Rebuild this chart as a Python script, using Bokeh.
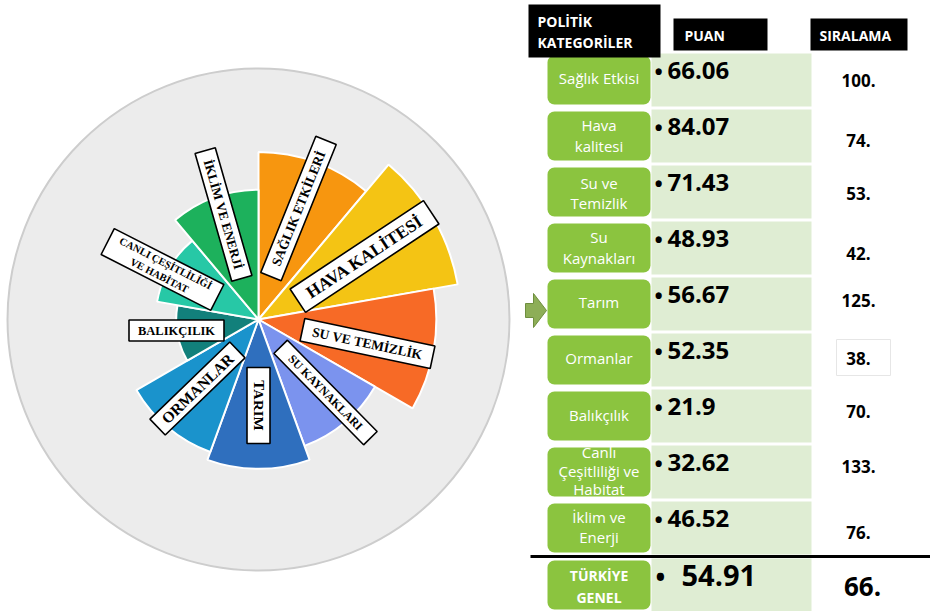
import math
from bokeh.plotting import figure
from bokeh.models import Range1d, ColumnDataSource
from bokeh.core.properties import value
from bokeh.embed import file_html
from bokeh.resources import INLINE

# ---------------- data ----------------
chart_labels = ["SAĞLIK ETKİLERİ", "HAVA KALİTESİ", "SU VE TEMİZLİK", "SU KAYNAKLARI",
                "TARIM", "ORMANLAR", "BALIKÇILIK", "CANLI ÇEŞİTLİLİĞİ\nVE HABİTAT",
                "İKLİM VE ENERJİ"]
table_labels = ["Sağlık Etkisi", "Hava\nkalitesi", "Su ve\nTemizlik", "Su\nKaynakları",
                "Tarım", "Ormanlar", "Balıkçılık", "Canlı\nÇeşitliliği ve\nHabitat",
                "İklim ve\nEnerji"]
scores = [66.06, 84.07, 71.43, 48.93, 56.67, 52.35, 21.9, 32.62, 46.52]
ranks = [100, 74, 53, 42, 125, 38, 70, 133, 76]
total_label = "TÜRKİYE\nGENEL"
total_score = 54.91
total_rank = 66
header_labels = ["POLİTİK\nKATEGORİLER", "PUAN", "SIRALAMA"]

# ---------------- style / layout ----------------
W, H = 930, 611
def fy(y):
    return H - y

wedge_colors = ["#F7960F", "#F4C414", "#F76A26", "#7B93EE", "#2F6FBE",
                "#1A93CC", "#12807B", "#27C8A6", "#1DB15C"]
CX, CY = 258, 319
R_BG = 251
R0, K = 40, 1.93   # radial offset and scale (px per point)

# label layout: dx, dy (image px from centre), angle deg, box w, box h, font px
lab_dx = [40, 106, 109, 67, 0, -61, -82, -96, -35]
lab_dy = [-111, -63, 24, 73, 86, 69, 11, -50, -105]
lab_ang = [68, 33.5, -12, -45.5, -90, 44, 0, -27, -74]
lab_w = [147, 160, 133, 128, 76, 111, 95, 123, 133]
lab_h = [22, 28, 23, 19, 23, 22, 21, 29, 21]
lab_fs = ["13.5px", "17.5px", "13.5px", "12px", "15px", "15.5px", "12.5px", "10.5px", "13px"]

ROW0, ROW_STEP, ROW_H = 55, 56, 49
TOTAL_TOP = 560
GREEN = "#8BC43F"
LIGHT = "#DFEDD3"
rank_dy = [25, 29, 26, 30, 21, 23, 20, 19, 29]
lbl_dy = [22, 24, 25, 23.5, 22, 22, 23, 23, 23]      # label block centre from row top
lbl_gap = [0, 21, 20, 21, 0, 0, 0, 18.5, 20]          # line spacing

p = figure(width=W, height=H, x_range=Range1d(0, W), y_range=Range1d(0, H),
           output_backend="svg", toolbar_location=None, min_border=0,
           x_axis_location=None, y_axis_location=None)
p.grid.visible = False
p.outline_line_color = None
p.background_fill_color = "white"
p.border_fill_color = "white"

# ---------------- polar chart ----------------
p.circle(x=[CX], y=[fy(CY)], radius=R_BG, fill_color="#ECECEC",
         line_color="#CDCDCD", line_width=2)

n = len(scores)
step = 360.0 / n
wsrc = ColumnDataSource(dict(
    x=[CX] * n, y=[fy(CY)] * n,
    r=[R0 + K * v for v in scores],
    s=[math.radians(90 - step * (i + 1)) for i in range(n)],
    e=[math.radians(90 - step * i) for i in range(n)],
    c=wedge_colors))
p.wedge(x="x", y="y", radius="r", start_angle="s", end_angle="e",
        fill_color="c", line_color="white", line_width=2, source=wsrc)

lsrc = ColumnDataSource(dict(
    x=[CX + d for d in lab_dx], y=[fy(CY + d) for d in lab_dy],
    a=[math.radians(a) for a in lab_ang], w=lab_w, h=lab_h,
    t=chart_labels, fs=lab_fs))
p.rect(x="x", y="y", width="w", height="h", angle="a", fill_color="white",
       line_color="black", line_width=1.6, source=lsrc)
p.text(x="x", y="y", text="t", angle="a", text_font=value("Liberation Serif"),
       text_font_style="bold", text_font_size="fs", text_align="center",
       text_baseline="middle", text_color="black", text_line_height=1.25,
       source=lsrc)

# ---------------- arrow ----------------
p.patch(x=[525, 533, 533, 546, 533, 533, 525],
        y=[fy(303), fy(303), fy(293), fy(310), fy(327), fy(317), fy(317)],
        fill_color="#8DAE57", line_color="#6E8E3E", line_width=1)

# ---------------- table ----------------
tops = [ROW0 + ROW_STEP * i for i in range(n)]
p.quad(left=[651] * n, right=[811] * n, top=[fy(t - 2) for t in tops],
       bottom=[fy(t + 51) for t in tops], fill_color=LIGHT, line_color=None)
p.quad(left=[651], right=[811], top=[fy(TOTAL_TOP - 2)], bottom=[fy(TOTAL_TOP + 52)],
       fill_color=LIGHT, line_color=None)
p.quad(left=[547] * (n + 1), right=[650] * (n + 1),
       top=[fy(t) for t in tops] + [fy(TOTAL_TOP)],
       bottom=[fy(t + ROW_H) for t in tops] + [fy(TOTAL_TOP + ROW_H)],
       fill_color=GREEN, line_color=None, border_radius=7)

# faint box around one rank
p.quad(left=[836], right=[890], top=[fy(339)], bottom=[fy(375)],
       fill_color="white", line_color="#E6E6E6", line_width=1)

# category names, line by line
lx, ly, lt = [], [], []
for t, lab, dy, gap in zip(tops, table_labels, lbl_dy, lbl_gap):
    lines = lab.split("\n")
    m = len(lines)
    for j, s in enumerate(lines):
        lx.append(598.5)
        ly.append(fy(t + dy + (j - (m - 1) / 2.0) * gap))
        lt.append(s)
p.text(x=lx, y=ly, text=lt, text_font=value("Open Sans"), text_font_size="15px",
       text_color="white", text_align="center", text_baseline="middle")

tl = total_label.split("\n")
p.text(x=[598.5] * len(tl), y=[fy(TOTAL_TOP + 15), fy(TOTAL_TOP + 37)], text=tl,
       text_font=value("Open Sans"), text_font_style="bold", text_font_size="14px",
       text_color="white", text_align="center", text_baseline="middle")

# scores
p.text(x=[654] * n, y=[fy(t + 15) for t in tops], text=["•"] * n,
       text_font=value("Open Sans"), text_font_style="bold", text_font_size="22px",
       text_align="left", text_baseline="middle", text_color="black")
p.text(x=[667] * n, y=[fy(t + 15) for t in tops], text=[f"{v}" for v in scores],
       text_font=value("Open Sans"), text_font_style="bold", text_font_size="24px",
       text_align="left", text_baseline="middle", text_color="black")
p.text(x=[655], y=[fy(TOTAL_TOP + 16)], text=["•"],
       text_font=value("Open Sans"), text_font_style="bold", text_font_size="26px",
       text_align="left", text_baseline="middle", text_color="black")
p.text(x=[681], y=[fy(TOTAL_TOP + 15)], text=[f"{total_score}"],
       text_font=value("Open Sans"), text_font_style="bold", text_font_size="29px",
       text_align="left", text_baseline="middle", text_color="black")

# ranks
p.text(x=[858] * n, y=[fy(t + d) for t, d in zip(tops, rank_dy)],
       text=[f"{r}." for r in ranks], text_font=value("Open Sans"),
       text_font_style="bold", text_font_size="17px", text_align="center",
       text_baseline="middle", text_color="black")
p.text(x=[862], y=[fy(TOTAL_TOP + 26)], text=[f"{total_rank}."],
       text_font=value("Open Sans"), text_font_style="bold", text_font_size="26px",
       text_align="center", text_baseline="middle", text_color="black")

# separator line
p.line(x=[530, 930], y=[fy(556), fy(556)], line_color="black", line_width=3)

# headers
p.quad(left=[528, 673, 810], right=[660, 767, 907], top=[fy(4), fy(18), fy(18)],
       bottom=[fy(57), fy(50), fy(50)], fill_color="black", line_color=None)
hl = header_labels[0].split("\n")
p.text(x=[537, 537, 684, 819], y=[fy(21), fy(42), fy(35), fy(35)],
       text=hl + header_labels[1:],
       text_font=value("Open Sans"), text_font_style="bold", text_font_size="14px",
       text_color="white", text_align="left", text_baseline="middle")

open("out.html", "w").write(file_html(p, INLINE))
